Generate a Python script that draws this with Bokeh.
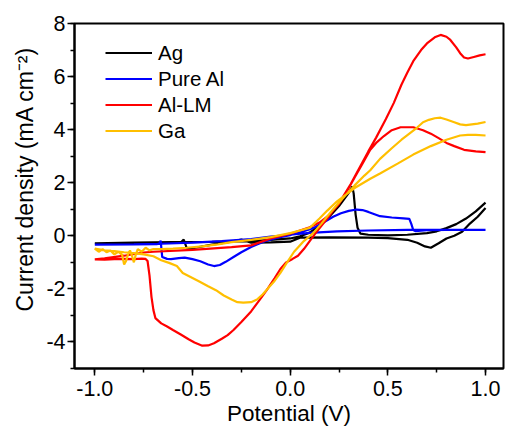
from bokeh.plotting import figure
from bokeh.models import Range1d, FixedTicker, Title
from bokeh.embed import file_html
from bokeh.resources import INLINE

# ---------------- data (potential V, current density mA cm-2) ----------------
series_names = ["Ag", "Pure Al", "Al-LM", "Ga"]
series_colors = ["#000000", "#0000FF", "#FF0000", "#FFBF00"]

ag_rev_v = [1.00, 0.96, 0.92, 0.88, 0.84, 0.80, 0.76, 0.72, 0.69, 0.65, 0.60, 0.50, 0.40, 0.20, 0.05, 0.00,
            -0.10, -0.20, -0.25, -0.30, -0.40, -0.50, -0.53, -0.545, -0.56, -0.70, -1.00]
ag_rev_j = [1.05, 0.72, 0.46, 0.15, 0.00, -0.10, -0.28, -0.45, -0.40, -0.26, -0.15, -0.09, -0.07, -0.06, -0.07, -0.22,
            -0.25, -0.26, -0.14, -0.22, -0.33, -0.47, -0.45, -0.14, -0.25, -0.27, -0.28]
ag_fwd_v = [-0.80, -0.60, -0.40, -0.20, -0.10, 0.00, 0.05, 0.10, 0.15, 0.20, 0.25, 0.30, 0.318, 0.325, 0.335, 0.345,
            0.36, 0.40, 0.50, 0.60, 0.70, 0.75, 0.80, 0.85, 0.90, 0.95, 1.00]
ag_fwd_j = [-0.26, -0.24, -0.23, -0.20, -0.15, -0.10, -0.02, 0.12, 0.38, 0.72, 1.12, 1.62, 1.86, 1.60, 0.80, 0.30,
            0.08, 0.04, 0.02, 0.04, 0.10, 0.17, 0.29, 0.44, 0.65, 0.92, 1.25]

al_rev_v = [1.00, 0.80, 0.60, 0.40, 0.24, 0.10, 0.00, -0.10, -0.20, -0.35, -0.50, -0.66, -0.80, -1.00]
al_rev_j = [0.22, 0.22, 0.22, 0.20, 0.17, 0.11, 0.04, -0.03, -0.12, -0.20, -0.26, -0.30, -0.32, -0.33]
al_fwd_v = [-0.80, -0.68, -0.668, -0.663, -0.655, -0.63, -0.61, -0.57, -0.54, -0.50, -0.46, -0.42, -0.39, -0.36,
            -0.33, -0.29, -0.25, -0.20, -0.17, -0.12, -0.07, 0.00, 0.07, 0.12, 0.17, 0.22, 0.26, 0.30, 0.34, 0.37,
            0.40, 0.46, 0.52, 0.58, 0.61, 0.62, 0.63, 0.64, 0.70, 0.80, 0.90, 1.00]
al_fwd_j = [-0.32, -0.31, -0.28, -0.18, -0.80, -0.87, -0.88, -0.84, -0.82, -0.88, -0.96, -1.08, -1.14, -1.10,
            -0.98, -0.80, -0.62, -0.42, -0.33, -0.18, -0.08, 0.02, 0.17, 0.30, 0.50, 0.72, 0.85, 0.94, 0.99, 0.97,
            0.90, 0.74, 0.69, 0.66, 0.64, 0.45, 0.22, 0.18, 0.21, 0.22, 0.22, 0.22]

lm_rev_v = [1.00, 0.95, 0.89, 0.84, 0.80, 0.76, 0.72, 0.68, 0.63, 0.565, 0.52, 0.48, 0.44, 0.41, 0.37, 0.33,
            0.30, 0.25, 0.20, 0.15, 0.10, 0.05, 0.00, -0.10, -0.20, -0.30, -0.50, -0.70, -0.75, -0.85, -0.95, -1.00]
lm_rev_j = [3.15, 3.18, 3.24, 3.38, 3.50, 3.68, 3.85, 3.98, 4.09, 4.09, 3.98, 3.76, 3.50, 3.24, 2.72, 2.20,
            1.80, 1.20, 0.78, 0.50, 0.32, 0.20, 0.08, -0.10, -0.36, -0.43, -0.53, -0.60, -0.63, -0.75, -0.85, -0.89]
lm_fwd_v = [-0.95, -0.90, -0.85, -0.80, -0.76, -0.74, -0.73, -0.72, -0.71, -0.70, -0.69, -0.66, -0.63, -0.60,
            -0.56, -0.52, -0.49, -0.45, -0.42, -0.39, -0.35, -0.32, -0.29, -0.25, -0.20, -0.16, -0.12, -0.08,
            -0.05, -0.02, 0.01, 0.04, 0.07, 0.10, 0.13, 0.16, 0.19, 0.22, 0.26, 0.31, 0.35, 0.40, 0.44, 0.49,
            0.53, 0.57, 0.60, 0.63, 0.67, 0.70, 0.74, 0.77, 0.80, 0.82, 0.85, 0.87, 0.89, 0.91, 0.94, 0.97, 1.00]
lm_fwd_j = [-0.90, -0.88, -0.87, -0.88, -0.86, -0.87, -0.95, -1.50, -2.30, -2.80, -3.10, -3.30, -3.42, -3.55,
            -3.72, -3.90, -4.02, -4.14, -4.13, -4.05, -3.88, -3.74, -3.55, -3.25, -2.85, -2.45, -2.05, -1.60,
            -1.25, -1.00, -0.88, -0.75, -0.50, -0.20, 0.10, 0.38, 0.65, 0.95, 1.35, 1.95, 2.50, 3.18, 3.70, 4.40,
            5.00, 5.70, 6.15, 6.58, 7.00, 7.25, 7.48, 7.57, 7.50, 7.38, 7.10, 6.88, 6.72, 6.68, 6.74, 6.80, 6.84]

ga_rev_v = [1.00, 0.95, 0.91, 0.87, 0.80, 0.72, 0.63, 0.55, 0.46, 0.41, 0.33, 0.24, 0.19, 0.15, 0.10, 0.05,
            0.00, -0.10, -0.20, -0.30, -0.37, -0.45, -0.53, -0.60, -0.66, -0.70, -0.72, -0.74, -0.76, -0.78,
            -0.79, -0.80, -0.81, -0.82, -0.83, -0.84, -0.85, -0.86, -0.88, -0.90, -0.92, -0.94, -0.96, -0.98, -1.00]
ga_rev_j = [3.78, 3.80, 3.80, 3.78, 3.62, 3.38, 3.06, 2.72, 2.35, 2.15, 1.80, 1.30, 0.95, 0.65, 0.30, 0.20,
            0.10, -0.05, -0.15, -0.24, -0.32, -0.40, -0.45, -0.48, -0.50, -0.50, -0.55, -0.45, -0.60, -0.50,
            -0.70, -1.00, -0.75, -0.55, -0.70, -0.95, -1.08, -0.72, -0.60, -0.70, -0.55, -0.62, -0.50, -0.60, -0.48]
ga_fwd_v = [-0.95, -0.90, -0.85, -0.80, -0.75, -0.70, -0.66, -0.62, -0.58, -0.55, -0.51, -0.47, -0.42, -0.38,
            -0.34, -0.30, -0.27, -0.24, -0.20, -0.17, -0.14, -0.11, -0.08, -0.05, -0.02, 0.02, 0.07, 0.12, 0.16,
            0.20, 0.24, 0.28, 0.33, 0.38, 0.41, 0.46, 0.52, 0.57, 0.61, 0.65, 0.68, 0.71, 0.74, 0.77, 0.80, 0.84,
            0.87, 0.90, 0.93, 0.96, 1.00]
ga_fwd_j = [-0.55, -0.58, -0.62, -0.65, -0.70, -0.77, -0.92, -1.02, -1.14, -1.40, -1.55, -1.70, -1.90, -2.05,
            -2.25, -2.40, -2.50, -2.52, -2.50, -2.40, -2.20, -1.95, -1.70, -1.40, -1.05, -0.60, -0.20, 0.12, 0.46,
            0.82, 1.17, 1.50, 1.90, 2.27, 2.47, 2.90, 3.30, 3.62, 3.85, 4.08, 4.28, 4.37, 4.43, 4.45, 4.38, 4.28,
            4.20, 4.17, 4.20, 4.23, 4.29]

x_ticks = [-1.0, -0.5, 0.0, 0.5, 1.0]
x_tick_labels = ["-1.0", "-0.5", "0.0", "0.5", "1.0"]
x_minor = [-1.0, -0.75, -0.5, -0.25, 0.0, 0.25, 0.5, 0.75, 1.0]
y_ticks = [-4, -2, 0, 2, 4, 6, 8]
y_tick_labels = ["-4", "-2", "0", "2", "4", "6", "8"]
y_minor = [-5, -4, -3, -2, -1, 0, 1, 2, 3, 4, 5, 6, 7, 8]

x_title = "Potential (V)"
y_title = "Current density (mA cm\u207b\u00b2)"

# ---------------- figure ----------------
FONT = "Liberation Sans"
X0, X1 = -1.104, 1.092
Y0, Y1 = -5.0, 8.0
W, H = 506, 428
BL, BR, BT, BB = 74, 3, 23, 59
FW, FH = W - BL - BR, H - BT - BB

p = figure(width=W, height=H, x_range=Range1d(X0, X1), y_range=Range1d(Y0, Y1),
           output_backend="svg", toolbar_location=None,
           min_border_left=BL, min_border_right=BR, min_border_top=BT, min_border_bottom=BB)
p.xgrid.visible = False
p.ygrid.visible = False
p.outline_line_color = "black"
p.outline_line_width = 2
p.background_fill_color = "white"
p.border_fill_color = "white"

for ax in (p.xaxis[0], p.yaxis[0]):
    ax.axis_line_width = 2
    ax.major_tick_line_width = 1.5
    ax.minor_tick_line_width = 1.5
    ax.major_tick_in = 0
    ax.major_tick_out = 7
    ax.minor_tick_in = 0
    ax.minor_tick_out = 4
    ax.major_label_text_font = FONT
    ax.major_label_text_font_size = "21.5px"
    ax.major_label_text_color = "black"
    ax.axis_label_text_font = FONT
    ax.axis_label_text_font_style = "normal"
    ax.axis_label_text_font_size = "22.5px"
    ax.axis_label_text_color = "black"

p.xaxis.ticker = FixedTicker(ticks=x_ticks, minor_ticks=x_minor)
p.xaxis.major_label_overrides = {t: s for t, s in zip(x_ticks, x_tick_labels)}
p.xaxis.major_label_standoff = 5
p.xaxis.axis_label = x_title
p.xaxis.axis_label_standoff = 2

p.yaxis.ticker = FixedTicker(ticks=y_ticks, minor_ticks=y_minor)
p.yaxis.major_label_overrides = {t: s for t, s in zip(y_ticks, y_tick_labels)}
p.yaxis.major_label_standoff = 2

ytitle = Title(text=y_title, align="left", offset=57, standoff=12,
               text_font=FONT, text_font_size="23px", text_font_style="normal", text_color="black")
p.add_layout(ytitle, "left")

# ---------------- curves ----------------
paths = [
    (ag_rev_v + ag_fwd_v, ag_rev_j + ag_fwd_j),
    (al_rev_v + al_fwd_v, al_rev_j + al_fwd_j),
    (lm_rev_v + lm_fwd_v, lm_rev_j + lm_fwd_j),
    (ga_rev_v + ga_fwd_v, ga_rev_j + ga_fwd_j),
]
for (vv, jj), name, col in zip(paths, series_names, series_colors):
    p.line(vv, jj, line_color=col, line_width=2.2, legend_label=name)

leg = p.legend[0]
leg.border_line_color = None
leg.background_fill_alpha = 0
leg.padding = 0
leg.margin = 0
item_h = 25
leg.spacing = 1
leg.label_height = item_h
leg.glyph_height = item_h
leg.glyph_width = 47
leg.label_standoff = 6
leg.label_text_font = FONT
leg.label_text_font_size = "20.5px"
leg.label_text_color = "black"
leg_h = 4 * item_h + 3 * 1
leg_top_offset = 18
leg.location = (31, FH - leg_top_offset - leg_h)

open("out.html", "w").write(file_html(p, INLINE))
